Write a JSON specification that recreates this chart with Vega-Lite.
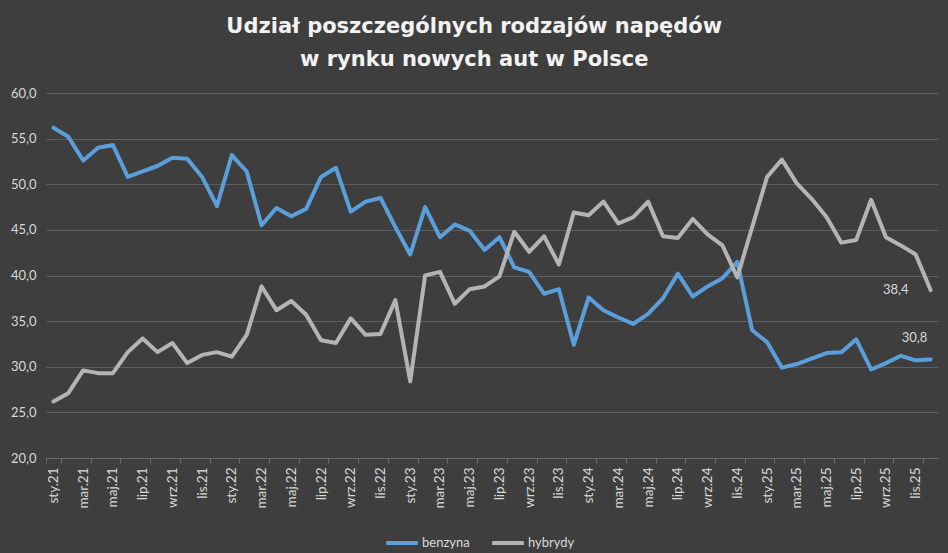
{
  "$schema": "https://vega.github.io/schema/vega-lite/v6.json",
  "width": 892,
  "height": 365,
  "autosize": {"type": "none"},
  "padding": {"left": 46, "top": 93, "right": 10, "bottom": 95},
  "background": "#3e3e3e",
  "title": {
    "text": ["Udział poszczególnych rodzajów napędów", "w rynku nowych aut w Polsce"],
    "frame": "bounds",
    "anchor": "middle",
    "font": "DejaVu Sans",
    "fontSize": 21,
    "fontWeight": "bold",
    "color": "#f2f2f2",
    "lineHeight": 33,
    "offset": 17
  },
  "data": {
    "values": [
      {"m": "sty.21", "s": "benzyna", "v": 56.2}, {"m": "lut.21", "s": "benzyna", "v": 55.2}, {"m": "mar.21", "s": "benzyna", "v": 52.6}, {"m": "kwi.21", "s": "benzyna", "v": 54.0},
      {"m": "maj.21", "s": "benzyna", "v": 54.3}, {"m": "cze.21", "s": "benzyna", "v": 50.8}, {"m": "lip.21", "s": "benzyna", "v": 51.4}, {"m": "sie.21", "s": "benzyna", "v": 52.0},
      {"m": "wrz.21", "s": "benzyna", "v": 52.9}, {"m": "paź.21", "s": "benzyna", "v": 52.8}, {"m": "lis.21", "s": "benzyna", "v": 50.8}, {"m": "gru.21", "s": "benzyna", "v": 47.6},
      {"m": "sty.22", "s": "benzyna", "v": 53.2}, {"m": "lut.22", "s": "benzyna", "v": 51.4}, {"m": "mar.22", "s": "benzyna", "v": 45.5}, {"m": "kwi.22", "s": "benzyna", "v": 47.4},
      {"m": "maj.22", "s": "benzyna", "v": 46.5}, {"m": "cze.22", "s": "benzyna", "v": 47.3}, {"m": "lip.22", "s": "benzyna", "v": 50.8}, {"m": "sie.22", "s": "benzyna", "v": 51.8},
      {"m": "wrz.22", "s": "benzyna", "v": 47.0}, {"m": "paź.22", "s": "benzyna", "v": 48.1}, {"m": "lis.22", "s": "benzyna", "v": 48.5}, {"m": "gru.22", "s": "benzyna", "v": 45.3},
      {"m": "sty.23", "s": "benzyna", "v": 42.3}, {"m": "lut.23", "s": "benzyna", "v": 47.5}, {"m": "mar.23", "s": "benzyna", "v": 44.2}, {"m": "kwi.23", "s": "benzyna", "v": 45.6},
      {"m": "maj.23", "s": "benzyna", "v": 44.9}, {"m": "cze.23", "s": "benzyna", "v": 42.8}, {"m": "lip.23", "s": "benzyna", "v": 44.2}, {"m": "sie.23", "s": "benzyna", "v": 40.9},
      {"m": "wrz.23", "s": "benzyna", "v": 40.4}, {"m": "paź.23", "s": "benzyna", "v": 38.0}, {"m": "lis.23", "s": "benzyna", "v": 38.5}, {"m": "gru.23", "s": "benzyna", "v": 32.4},
      {"m": "sty.24", "s": "benzyna", "v": 37.6}, {"m": "lut.24", "s": "benzyna", "v": 36.2}, {"m": "mar.24", "s": "benzyna", "v": 35.4}, {"m": "kwi.24", "s": "benzyna", "v": 34.7},
      {"m": "maj.24", "s": "benzyna", "v": 35.8}, {"m": "cze.24", "s": "benzyna", "v": 37.5}, {"m": "lip.24", "s": "benzyna", "v": 40.2}, {"m": "sie.24", "s": "benzyna", "v": 37.7},
      {"m": "wrz.24", "s": "benzyna", "v": 38.8}, {"m": "paź.24", "s": "benzyna", "v": 39.7}, {"m": "lis.24", "s": "benzyna", "v": 41.5}, {"m": "gru.24", "s": "benzyna", "v": 34.0},
      {"m": "sty.25", "s": "benzyna", "v": 32.7}, {"m": "lut.25", "s": "benzyna", "v": 29.9}, {"m": "mar.25", "s": "benzyna", "v": 30.3}, {"m": "kwi.25", "s": "benzyna", "v": 30.9},
      {"m": "maj.25", "s": "benzyna", "v": 31.5}, {"m": "cze.25", "s": "benzyna", "v": 31.6}, {"m": "lip.25", "s": "benzyna", "v": 33.0}, {"m": "sie.25", "s": "benzyna", "v": 29.7},
      {"m": "wrz.25", "s": "benzyna", "v": 30.4}, {"m": "paź.25", "s": "benzyna", "v": 31.2}, {"m": "lis.25", "s": "benzyna", "v": 30.7}, {"m": "gru.25", "s": "benzyna", "v": 30.8, "last": true},
      {"m": "sty.21", "s": "hybrydy", "v": 26.2}, {"m": "lut.21", "s": "hybrydy", "v": 27.1}, {"m": "mar.21", "s": "hybrydy", "v": 29.6}, {"m": "kwi.21", "s": "hybrydy", "v": 29.3},
      {"m": "maj.21", "s": "hybrydy", "v": 29.3}, {"m": "cze.21", "s": "hybrydy", "v": 31.6}, {"m": "lip.21", "s": "hybrydy", "v": 33.1}, {"m": "sie.21", "s": "hybrydy", "v": 31.6},
      {"m": "wrz.21", "s": "hybrydy", "v": 32.6}, {"m": "paź.21", "s": "hybrydy", "v": 30.4}, {"m": "lis.21", "s": "hybrydy", "v": 31.3}, {"m": "gru.21", "s": "hybrydy", "v": 31.6},
      {"m": "sty.22", "s": "hybrydy", "v": 31.1}, {"m": "lut.22", "s": "hybrydy", "v": 33.5}, {"m": "mar.22", "s": "hybrydy", "v": 38.8}, {"m": "kwi.22", "s": "hybrydy", "v": 36.2},
      {"m": "maj.22", "s": "hybrydy", "v": 37.2}, {"m": "cze.22", "s": "hybrydy", "v": 35.7}, {"m": "lip.22", "s": "hybrydy", "v": 32.9}, {"m": "sie.22", "s": "hybrydy", "v": 32.6},
      {"m": "wrz.22", "s": "hybrydy", "v": 35.3}, {"m": "paź.22", "s": "hybrydy", "v": 33.5}, {"m": "lis.22", "s": "hybrydy", "v": 33.6}, {"m": "gru.22", "s": "hybrydy", "v": 37.3},
      {"m": "sty.23", "s": "hybrydy", "v": 28.4}, {"m": "lut.23", "s": "hybrydy", "v": 40.0}, {"m": "mar.23", "s": "hybrydy", "v": 40.4}, {"m": "kwi.23", "s": "hybrydy", "v": 36.9},
      {"m": "maj.23", "s": "hybrydy", "v": 38.5}, {"m": "cze.23", "s": "hybrydy", "v": 38.8}, {"m": "lip.23", "s": "hybrydy", "v": 39.9}, {"m": "sie.23", "s": "hybrydy", "v": 44.8},
      {"m": "wrz.23", "s": "hybrydy", "v": 42.6}, {"m": "paź.23", "s": "hybrydy", "v": 44.3}, {"m": "lis.23", "s": "hybrydy", "v": 41.2}, {"m": "gru.23", "s": "hybrydy", "v": 46.9},
      {"m": "sty.24", "s": "hybrydy", "v": 46.6}, {"m": "lut.24", "s": "hybrydy", "v": 48.1}, {"m": "mar.24", "s": "hybrydy", "v": 45.7}, {"m": "kwi.24", "s": "hybrydy", "v": 46.4},
      {"m": "maj.24", "s": "hybrydy", "v": 48.1}, {"m": "cze.24", "s": "hybrydy", "v": 44.3}, {"m": "lip.24", "s": "hybrydy", "v": 44.1}, {"m": "sie.24", "s": "hybrydy", "v": 46.2},
      {"m": "wrz.24", "s": "hybrydy", "v": 44.5}, {"m": "paź.24", "s": "hybrydy", "v": 43.3}, {"m": "lis.24", "s": "hybrydy", "v": 39.8}, {"m": "gru.24", "s": "hybrydy", "v": 45.3},
      {"m": "sty.25", "s": "hybrydy", "v": 50.8}, {"m": "lut.25", "s": "hybrydy", "v": 52.7}, {"m": "mar.25", "s": "hybrydy", "v": 50.1}, {"m": "kwi.25", "s": "hybrydy", "v": 48.4},
      {"m": "maj.25", "s": "hybrydy", "v": 46.4}, {"m": "cze.25", "s": "hybrydy", "v": 43.6}, {"m": "lip.25", "s": "hybrydy", "v": 43.9}, {"m": "sie.25", "s": "hybrydy", "v": 48.3},
      {"m": "wrz.25", "s": "hybrydy", "v": 44.2}, {"m": "paź.25", "s": "hybrydy", "v": 43.3}, {"m": "lis.25", "s": "hybrydy", "v": 42.3}, {"m": "gru.25", "s": "hybrydy", "v": 38.4, "last": true}
    ]
  },
  "encoding": {
    "x": {
      "field": "m",
      "type": "ordinal",
      "sort": null,
      "scale": {"type": "band", "paddingInner": 0, "paddingOuter": 0},
      "axis": {
        "title": null,
        "values": ["sty.21", "mar.21", "maj.21", "lip.21", "wrz.21", "lis.21", "sty.22", "mar.22", "maj.22", "lip.22", "wrz.22", "lis.22", "sty.23", "mar.23", "maj.23", "lip.23", "wrz.23", "lis.23", "sty.24", "mar.24", "maj.24", "lip.24", "wrz.24", "lis.24", "sty.25", "mar.25", "maj.25", "lip.25", "wrz.25", "lis.25"],
        "tickBand": "extent",
        "labelAngle": -90,
        "labelFont": "Lato",
        "labelFontSize": 13.5,
        "labelColor": "#d9d9d9",
        "labelPadding": 4,
        "domainColor": "#6a6a6a",
        "tickColor": "#6a6a6a",
        "tickSize": 5,
        "grid": false
      }
    },
    "y": {
      "field": "v",
      "type": "quantitative",
      "scale": {"domain": [20, 60], "nice": false, "zero": false},
      "axis": {
        "title": null,
        "values": [20, 25, 30, 35, 40, 45, 50, 55, 60],
        "format": ".1f",
        "labelFont": "Lato",
        "labelFontSize": 13,
        "labelColor": "#d9d9d9",
        "labelPadding": 10,
        "domain": false,
        "ticks": false,
        "gridColor": "#5e5e5e",
        "gridWidth": 1
      }
    },
    "color": {
      "field": "s",
      "type": "nominal",
      "scale": {"domain": ["benzyna", "hybrydy"], "range": ["#5a9fdc", "#b4b4b4"]},
      "legend": {
        "title": null,
        "orient": "none",
        "direction": "horizontal",
        "legendX": 338,
        "legendY": 432,
        "symbolType": "stroke",
        "symbolStrokeWidth": 4,
        "symbolSize": 1000,
        "labelFont": "Lato",
        "labelFontSize": 13,
        "labelColor": "#d9d9d9",
        "columnPadding": 14,
        "labelOffset": 2
      }
    }
  },
  "layer": [
    {
      "mark": {"type": "line", "strokeWidth": 4, "strokeJoin": "round", "strokeCap": "round"}
    },
    {
      "transform": [{"filter": "datum.s === 'hybrydy' && datum.last"}],
      "mark": {"type": "text", "align": "right", "baseline": "middle", "dx": -22, "dy": 0, "font": "Lato", "fontSize": 13},
      "encoding": {"text": {"field": "v", "type": "quantitative", "format": ".1f"}, "color": {"value": "#d9d9d9"}}
    },
    {
      "transform": [{"filter": "datum.s === 'benzyna' && datum.last"}],
      "mark": {"type": "text", "align": "center", "baseline": "middle", "dx": -16, "dy": -21, "font": "Lato", "fontSize": 13},
      "encoding": {"text": {"field": "v", "type": "quantitative", "format": ".1f"}, "color": {"value": "#d9d9d9"}}
    }
  ],
  "config": {
    "view": {"stroke": null},
    "locale": {"number": {"decimal": ",", "thousands": " ", "grouping": [3], "currency": ["", " zł"]}}
  }
}
